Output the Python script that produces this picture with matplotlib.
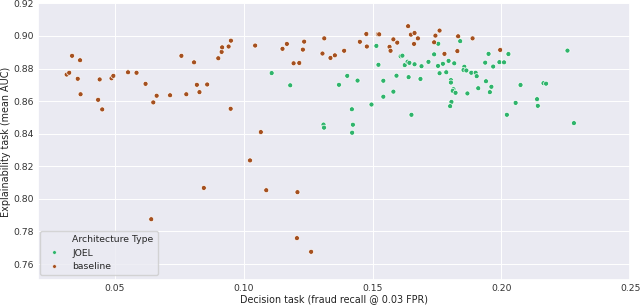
import matplotlib
matplotlib.use("Agg")
import matplotlib.pyplot as plt
from matplotlib.lines import Line2D
import seaborn as sns
import pandas as pd

baseline_x = [0.0314, 0.0324, 0.0335, 0.0357, 0.0366, 0.0368, 0.0436, 0.0442, 0.0452, 0.0488,
              0.0495, 0.0552, 0.0585, 0.0620, 0.0650, 0.0663, 0.0715, 0.0759, 0.0778, 0.0808,
              0.0819, 0.0829, 0.0859, 0.0902, 0.0915, 0.0917, 0.0942, 0.0951, 0.0950, 0.1045,
              0.1067, 0.1151, 0.1168, 0.1194, 0.1216, 0.1230, 0.1235, 0.1313, 0.1306, 0.1337,
              0.1354, 0.1390, 0.1451, 0.1476, 0.1478, 0.1521, 0.1526, 0.1566, 0.1570, 0.1581,
              0.1596, 0.1638, 0.1649, 0.1663, 0.1661, 0.1676, 0.1744, 0.1760, 0.1739, 0.1779,
              0.1832, 0.1829, 0.1888, 0.1995, 0.0642, 0.0846, 0.1025, 0.1088, 0.1209, 0.1207,
              0.1262]
baseline_y = [0.8763, 0.8774, 0.8878, 0.8737, 0.8851, 0.8642, 0.8608, 0.8733, 0.8549, 0.8740,
              0.8755, 0.8777, 0.8774, 0.8706, 0.8592, 0.8633, 0.8636, 0.8878, 0.8642, 0.8838,
              0.8700, 0.8655, 0.8702, 0.8863, 0.8902, 0.8930, 0.8935, 0.8971, 0.8553, 0.8941,
              0.8410, 0.8921, 0.8951, 0.8832, 0.8834, 0.8916, 0.8965, 0.8985, 0.8892, 0.8865,
              0.8881, 0.8909, 0.8964, 0.9012, 0.8935, 0.9011, 0.9010, 0.8933, 0.8909, 0.8979,
              0.8959, 0.9060, 0.9008, 0.9018, 0.8951, 0.8985, 0.9002, 0.9033, 0.8961, 0.8890,
              0.8998, 0.8907, 0.8985, 0.8914, 0.7875, 0.8067, 0.8236, 0.8053, 0.8041, 0.7759,
              0.7675]

joel_x = [0.1109, 0.1181, 0.1310, 0.1312, 0.1370, 0.1402, 0.1420, 0.1424, 0.1421, 0.1442,
          0.1496, 0.1515, 0.1523, 0.1542, 0.1542, 0.1581, 0.1593, 0.1609, 0.1616, 0.1625,
          0.1636, 0.1643, 0.1640, 0.1651, 0.1663, 0.1686, 0.1690, 0.1717, 0.1739, 0.1755,
          0.1754, 0.1760, 0.1773, 0.1786, 0.1795, 0.1804, 0.1804, 0.1806, 0.1801, 0.1814,
          0.1811, 0.1822, 0.1817, 0.1840, 0.1856, 0.1853, 0.1864, 0.1868, 0.1883, 0.1900,
          0.1904, 0.1910, 0.1937, 0.1940, 0.1950, 0.1961, 0.1955, 0.1968, 0.1992, 0.2010,
          0.2027, 0.2021, 0.2055, 0.2074, 0.2138, 0.2141, 0.2163, 0.2173, 0.2256, 0.2281]
joel_y = [0.8772, 0.8697, 0.8456, 0.8437, 0.8700, 0.8755, 0.8550, 0.8455, 0.8406, 0.8726,
          0.8579, 0.8939, 0.8823, 0.8725, 0.8627, 0.8658, 0.8756, 0.8875, 0.8879, 0.8821,
          0.8842, 0.8835, 0.8747, 0.8516, 0.8826, 0.8736, 0.8814, 0.8841, 0.8887, 0.8952,
          0.8816, 0.8771, 0.8829, 0.8777, 0.8847, 0.8729, 0.8714, 0.8595, 0.8569, 0.8673,
          0.8663, 0.8651, 0.8832, 0.8968, 0.8811, 0.8791, 0.8788, 0.8647, 0.8774, 0.8774,
          0.8753, 0.8679, 0.8836, 0.8722, 0.8890, 0.8688, 0.8655, 0.8812, 0.8839, 0.8838,
          0.8889, 0.8516, 0.8589, 0.8699, 0.8612, 0.8571, 0.8710, 0.8707, 0.8910, 0.8465]

x_ticks = [0.05, 0.10, 0.15, 0.20, 0.25]
y_ticks = [0.76, 0.78, 0.80, 0.82, 0.84, 0.86, 0.88, 0.90, 0.92]
hue_title = "Architecture Type"
hue_levels = ["JOEL", "baseline"]
colors = {"JOEL": "#2fb46c", "baseline": "#a5501f"}

sns.set_theme(style="darkgrid")
plt.rcParams['font.family'] = ['DejaVu Sans']

df = pd.DataFrame({
    "x": joel_x + baseline_x,
    "y": joel_y + baseline_y,
    hue_title: ["JOEL"] * len(joel_x) + ["baseline"] * len(baseline_x),
})

fig = plt.figure(figsize=(6.4, 3.05), dpi=100)
ax = fig.add_axes([0.0594, 0.082, 0.9256, 0.907])
sns.scatterplot(data=df, x="x", y="y", hue=hue_title, palette=colors,
                s=13, linewidth=0.5, edgecolor="white", ax=ax, legend=False)

ax.set_xlim(0.0203, 0.25)
ax.set_ylim(0.7502, 0.9196)
ax.set_xticks(x_ticks)
ax.set_yticks(y_ticks)
ax.set_xticklabels([f"{v:.2f}" for v in x_ticks])
ax.set_yticklabels([f"{v:.2f}" for v in y_ticks])
ax.tick_params(labelsize=6.7, pad=3, length=0)
for lbl in ax.get_xticklabels() + ax.get_yticklabels():
    lbl.set_color("#333333")
ax.grid(True, color="white", linewidth=0.7)
ax.set_xlabel("Decision task (fraud recall @ 0.03 FPR)", fontsize=6.9, color="#222222", va="top")
ax.set_ylabel("Explainability task (mean AUC)", fontsize=6.9, color="#222222")
ax.xaxis.set_label_coords(0.5, -0.050)
ax.yaxis.set_label_coords(-0.0455, 0.5)

handles = [Line2D([], [], linestyle="none", marker=None)]
labels = [hue_title]
for lev in hue_levels:
    handles.append(Line2D([], [], linestyle="none", marker="o", markersize=2.6,
                          markerfacecolor=colors[lev], markeredgecolor="white",
                          markeredgewidth=0.3))
    labels.append(lev)
leg = ax.legend(handles, labels, loc="lower left", bbox_to_anchor=(2 / 592, 5 / 277),
                borderaxespad=0, fontsize=6.7, handlelength=2.2, handletextpad=0.8,
                labelspacing=0.45, borderpad=0.45, frameon=True)

fig.savefig("out.png", dpi=100)
